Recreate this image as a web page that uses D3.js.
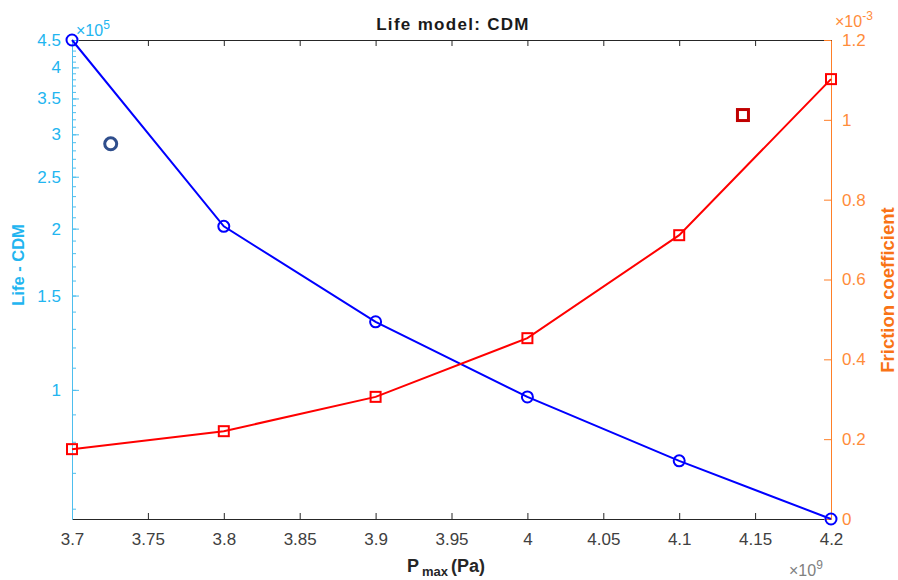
<!DOCTYPE html>
<html><head><meta charset="utf-8">
<script src="https://cdn.jsdelivr.net/npm/d3@7"></script>
<style>body{margin:0;background:#fff}svg{font-family:"Liberation Sans",Arial,sans-serif}</style>
</head><body><svg id="c" width="898" height="580"></svg>
<script>
const pressure = [3.7, 3.8, 3.9, 4.0, 4.1, 4.2];          // x 1e9 Pa
const lifeCDM = [4.5, 2.02, 1.34, 0.97, 0.737, 0.574];     // x 1e5
const friction = [0.175, 0.220, 0.306, 0.453, 0.711, 1.102]; // x 1e-3
const xTicks = [3.7, 3.75, 3.8, 3.85, 3.9, 3.95, 4.0, 4.05, 4.1, 4.15, 4.2];
const leftTicks = [1, 1.5, 2, 2.5, 3, 3.5, 4, 4.5];
const rightTicks = [0, 0.2, 0.4, 0.6, 0.8, 1, 1.2];
const strayLife = {x: 3.7255, y: 2.88};
const strayFric = {x: 4.142, y: 1.012};

const svg = d3.select("#c");
const L = 72, R = 831, T = 40, B = 519;
const cBlueAx = "#4DBEEE", cBlueTxt = "#22B5F0", cOr = "#FF7F27", cOrTxt = "#FF8C3A";
const x = d3.scaleLinear().domain([3.7, 4.2]).range([L, R]);
const yL = d3.scaleLog().domain([0.574, 4.5]).range([B, T]);
const yR = d3.scaleLinear().domain([0, 1.2]).range([B, T]);
const fmt = d => String(+d.toFixed(2));
const TF = "17px";

// bottom axis
const gx = svg.append("g").attr("transform", `translate(0,${B})`)
  .call(d3.axisBottom(x).tickValues(xTicks).tickFormat(fmt).tickSizeInner(-6).tickSizeOuter(0).tickPadding(14));
gx.select(".domain").attr("stroke", "#262626");
gx.selectAll(".tick line").attr("stroke", "#262626");
gx.selectAll("text").attr("fill", "#404040").style("font-size", TF);
// top axis
const gt = svg.append("g").attr("transform", `translate(0,${T})`)
  .call(d3.axisTop(x).tickValues(xTicks).tickFormat("").tickSizeInner(-6).tickSizeOuter(0));
gt.select(".domain").attr("stroke", "#262626");
gt.selectAll(".tick line").attr("stroke", "#262626");

// left axis (log)
const minorL = d3.range(6, 46).map(v => v / 10).filter(v => v >= 0.574 && v <= 4.5);
const gl = svg.append("g").attr("transform", `translate(${L},0)`);
gl.call(d3.axisLeft(yL).tickValues(minorL).tickFormat("").tickSizeInner(-4).tickSizeOuter(0));
gl.selectAll(".tick line").attr("stroke", cBlueAx);
gl.select(".domain").attr("stroke", cBlueAx);
const gl2 = svg.append("g").attr("transform", `translate(${L},0)`)
  .call(d3.axisLeft(yL).tickValues(leftTicks).tickFormat(fmt).tickSizeInner(-7).tickSizeOuter(0).tickPadding(11));
gl2.select(".domain").attr("stroke", cBlueAx);
gl2.selectAll(".tick line").attr("stroke", cBlueAx);
gl2.selectAll("text").attr("fill", cBlueTxt).style("font-size", TF);

// right axis
const gr = svg.append("g").attr("transform", `translate(${R},0)`)
  .call(d3.axisRight(yR).tickValues(rightTicks).tickFormat(fmt).tickSizeInner(-7).tickSizeOuter(0).tickPadding(11));
gr.select(".domain").attr("stroke", cOr);
gr.selectAll(".tick line").attr("stroke", cOr);
gr.selectAll("text").attr("fill", cOrTxt).style("font-size", TF);

// exponent labels
const exp = (xx, yy, sup, col) => {
  const t = svg.append("text").attr("x", xx).attr("y", yy).attr("fill", col).style("font-size", "16px");
  t.append("tspan").text("×10");
  t.append("tspan").attr("dy", -7).style("font-size", "12px").text(sup);
};
exp(76, 36, "5", cBlueTxt);
exp(835, 27, "-3", cOrTxt);
exp(789, 576, "9", "#808080");

// lines
const lineL = d3.line().x((d, i) => x(pressure[i])).y(d => yL(d));
const lineR = d3.line().x((d, i) => x(pressure[i])).y(d => yR(d));
svg.append("path").datum(lifeCDM).attr("d", lineL).attr("fill", "none").attr("stroke", "#0000FF").attr("stroke-width", 2);
svg.append("path").datum(friction).attr("d", lineR).attr("fill", "none").attr("stroke", "#FF0000").attr("stroke-width", 2);
svg.selectAll(".mc").data(lifeCDM).enter().append("circle")
  .attr("cx", (d, i) => x(pressure[i])).attr("cy", d => yL(d)).attr("r", 5.5)
  .attr("fill", "none").attr("stroke", "#0000FF").attr("stroke-width", 2);
svg.selectAll(".ms").data(friction).enter().append("rect")
  .attr("x", (d, i) => x(pressure[i]) - 5).attr("y", d => yR(d) - 5).attr("width", 10).attr("height", 10)
  .attr("fill", "none").attr("stroke", "#FF0000").attr("stroke-width", 2);

// stray legend markers
svg.append("circle").attr("cx", x(strayLife.x)).attr("cy", yL(strayLife.y)).attr("r", 6)
  .attr("fill", "none").attr("stroke", "#2F4E8C").attr("stroke-width", 3);
svg.append("rect").attr("x", x(strayFric.x) - 5.5).attr("y", yR(strayFric.y) - 5.5).attr("width", 11).attr("height", 11)
  .attr("fill", "none").attr("stroke", "#C00000").attr("stroke-width", 3);

// titles
svg.append("text").attr("x", 453).attr("y", 30).attr("text-anchor", "middle").attr("fill", "#1a1a1a")
  .style("font-size", "17px").style("font-weight", "bold").style("letter-spacing", "1.3px").text("Life model: CDM");
const xl = svg.append("text").attr("x", 407).attr("y", 572).attr("fill", "#262626")
  .style("font-size", "18px").style("font-weight", "bold");
xl.append("tspan").text("P");
xl.append("tspan").attr("dx", 3).attr("dy", 4).style("font-size", "13px").text("max");
xl.append("tspan").attr("dx", 3).attr("dy", -4).text("(Pa)");
svg.append("text").attr("transform", "translate(24,265) rotate(-90)").attr("text-anchor", "middle")
  .attr("fill", cBlueTxt).style("font-size", "16.5px").style("font-weight", "bold").text("Life - CDM");
svg.append("text").attr("transform", "translate(894,290) rotate(-90)").attr("text-anchor", "middle")
  .attr("fill", "#F97316").style("font-size", "18.5px").style("font-weight", "bold").text("Friction coefficient");
</script></body></html>
